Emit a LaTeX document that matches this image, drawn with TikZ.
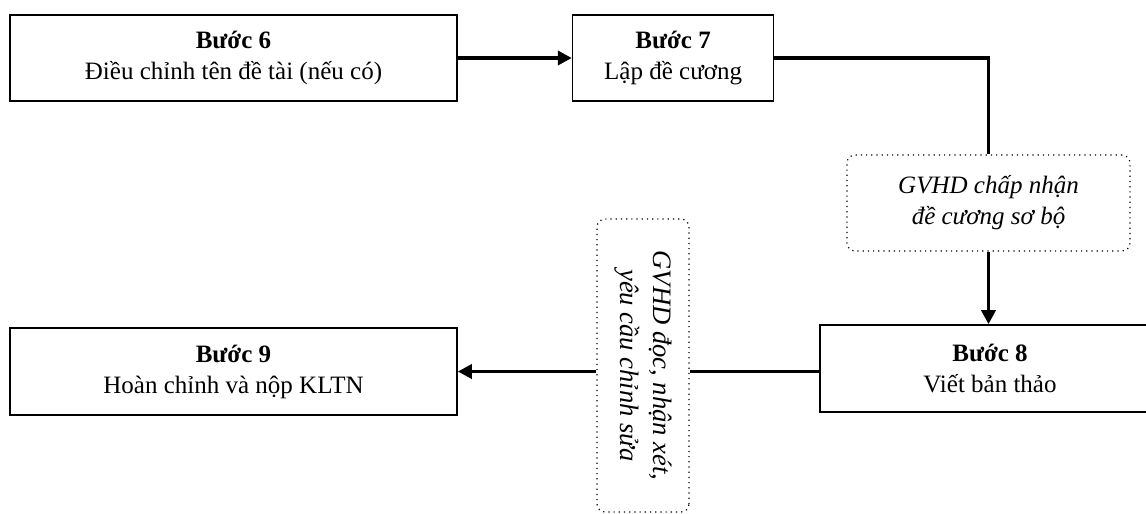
\documentclass[tikz,border=0pt]{standalone}
\usepackage{fontspec}
\setmainfont{Liberation Serif}
\usetikzlibrary{arrows.meta,positioning,calc}
\def \tu {0.5pt}

\begin{document}
\begin{tikzpicture}[x=\tu,y=-\tu,
    stepbox/.style={draw,line width=0.8pt,inner sep=0pt,align=center,
      font=\fontsize{12.5}{15.5}\selectfont},
    notebox/.style={draw,dotted,line width=0.6pt,rounded corners=4pt,inner sep=0pt,
      align=center,font=\fontsize{12.5}{15.5}\selectfont\itshape},
    link/.style={line width=1.8pt},
    >={Triangle[length=7pt,width=7pt]}]
    \useasboundingbox (0,0) rectangle (1146,514);
    \node[stepbox,minimum width=447*\tu,minimum height=86*\tu] (B6) at (233.5,58)
      {\textbf{Bước 6}\\Điều chỉnh tên đề tài (nếu có)};
    \node[stepbox,minimum width=201*\tu,minimum height=86*\tu,right=114*\tu of B6] (B7)
      {\textbf{Bước 7}\\Lập đề cương};
    \node[notebox,minimum width=283*\tu,minimum height=96*\tu] (A) at (988.5,203)
      {GVHD chấp nhận\\đề cương sơ bộ};
    \node[stepbox,minimum width=340*\tu,minimum height=87*\tu] (B8) at (990,368.5)
      {\textbf{Bước 8}\\Viết bản thảo};
    \node[stepbox,minimum width=447*\tu,minimum height=87*\tu] (B9) at (233.5,371.5)
      {\textbf{Bước 9}\\Hoàn chỉnh và nộp KLTN};
    \node[notebox,minimum width=293*\tu,minimum height=92*\tu,rotate=-90,
      font=\fontsize{13.3}{16.5}\selectfont\itshape] (R) at (643,365.5)
      {GVHD đọc, nhận xét,\\yêu cầu chỉnh sửa};
    % connectors
    \draw[link,->] (B6) -- (B7);
    \draw[link] (B7.east) -- (B7.east -| A.north) -- (A.north);
    \draw[link,->] (A.south) -- (A.south |- B8.north);
    \draw[link] (B8.west |- B9.east) -- (R.north |- B9.east);
    \draw[link,->] (R.south |- B9.east) -- (B9.east);
\end{tikzpicture}
\end{document}
